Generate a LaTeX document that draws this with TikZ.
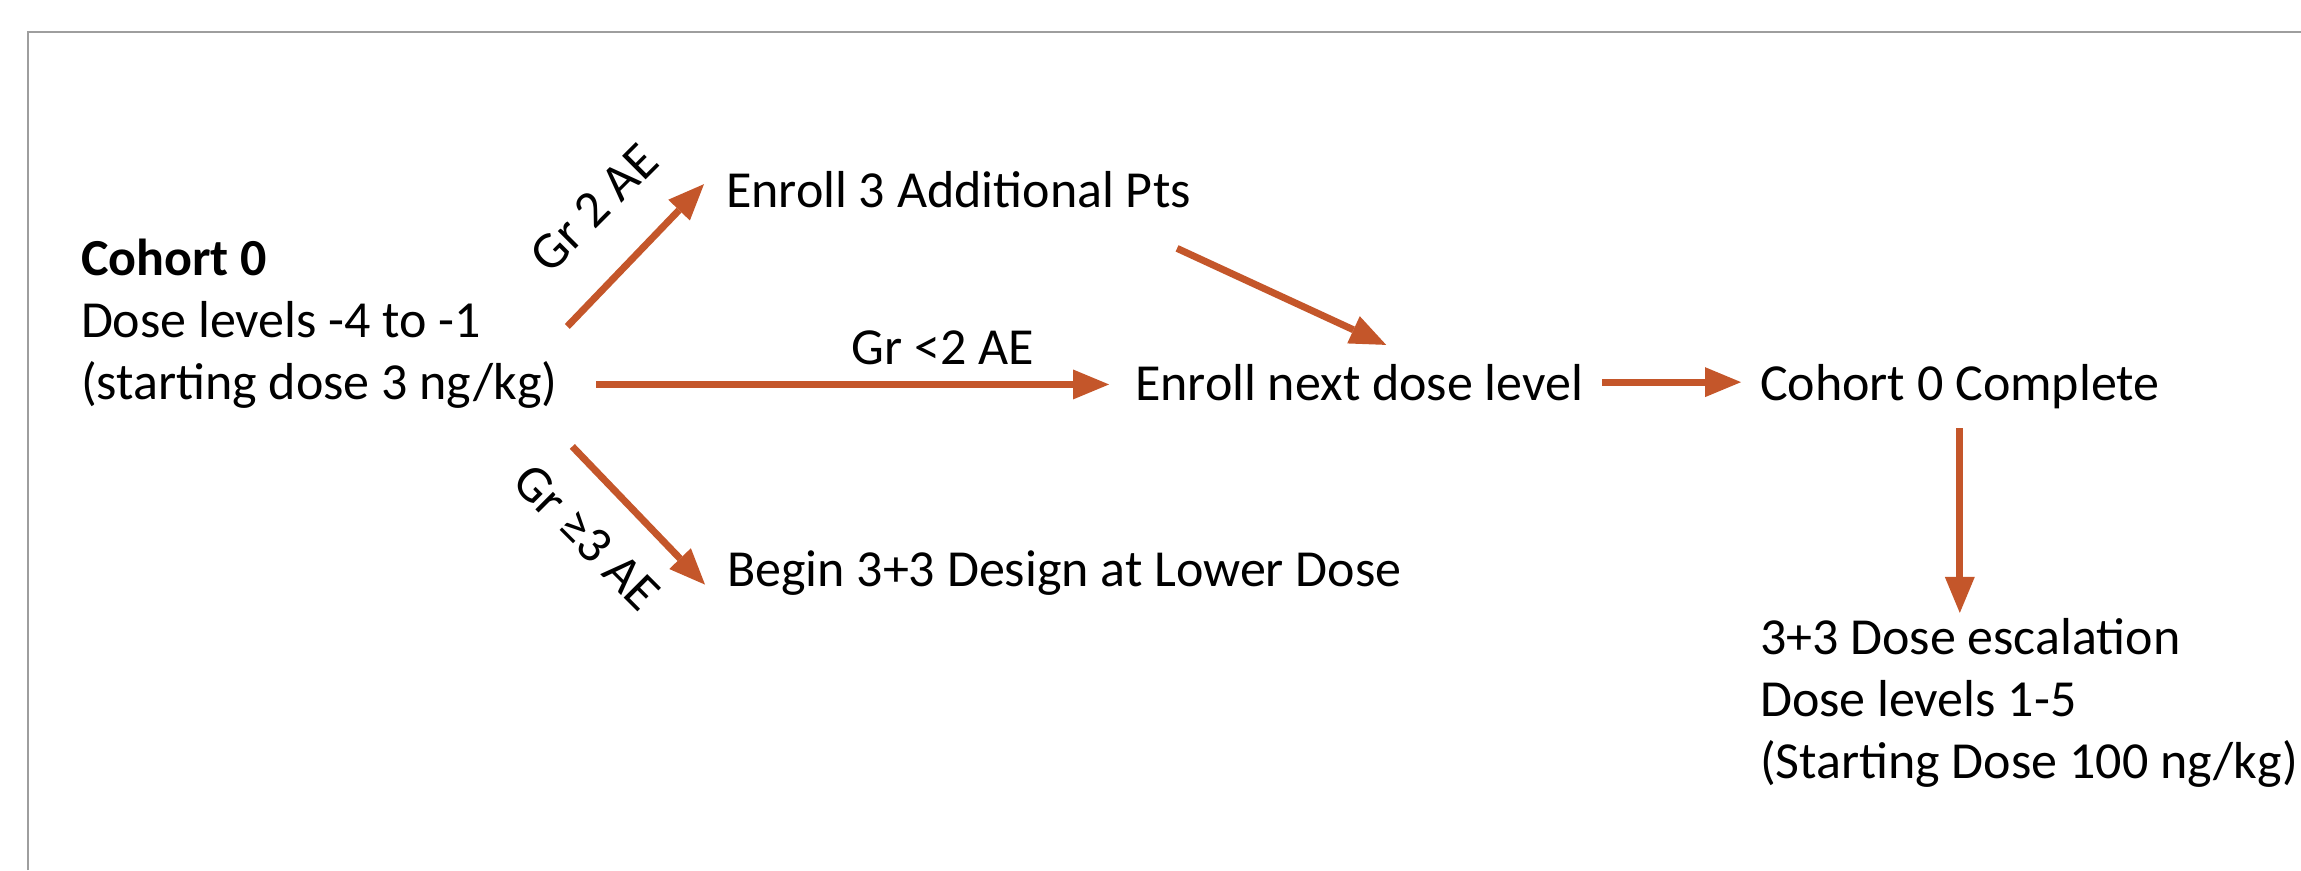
\documentclass[tikz,border=0pt]{standalone}
\usepackage{fontspec}
\setmainfont{Carlito}
\usetikzlibrary{arrows.meta}
\definecolor{flow}{HTML}{C4562A}
\definecolor{framegray}{HTML}{9E9E9E}
\begin{document}
\begin{tikzpicture}[x=1pt,y=-1pt,
  txt/.style={inner sep=0pt, outer sep=0pt, anchor=base west, font=\fontsize{52}{62}\selectfont},
  lbl/.style={inner sep=0pt, outer sep=0pt, font=\fontsize{52}{62}\selectfont},
  arr/.style={draw=flow, line width=7pt, -{Triangle[length=36pt,width=30pt,line width=0pt]}},
  frameline/.style={draw=framegray, line width=2.5pt}]
\useasboundingbox (0,0) rectangle (2301,870);
% open frame: only the top and left edges fall inside the page
\draw[frameline] (28,870) -- (28,32) -- (2301,32);

% starting cohort
\node[txt] (c0a) at (81,275) {\bfseries Cohort 0};
\node[txt] (c0b) at (81,337) {Dose levels -4 to -1};
\node[txt] (c0c) at (81,399) {(starting dose 3 ng/kg)};

% outcomes
\node[txt] (pts) at (726,207) {Enroll 3 Additional Pts};
\node[txt] (nxt) at (1135,400) {Enroll next dose level};
\node[txt] (low) at (727,586) {Begin 3+3 Design at Lower Dose};
\node[txt] (cmp) at (1760,400) {Cohort 0 Complete};

% escalation phase
\node[txt] (esa) at (1760,654) {3+3 Dose escalation};
\node[txt] (esb) at (1760,716) {Dose levels 1-5};
\node[txt] (esc) at (1760,778) {(Starting Dose 100 ng/kg)};

% branch conditions
\node[lbl, rotate=45] (lg2) at (594,208) {Gr 2 AE};
\node[lbl, anchor=base] (lgl) at (943,364) {Gr <2 AE};
\node[lbl, rotate=-45] (lg3) at (587,537) {Gr ≥3 AE};

% connectors
\draw[arr] ([shift={(10,-58)}]c0c.east) -- ([shift={(-22,-5)}]pts.west);
\draw[arr, shorten <=39pt, shorten >=26pt] (c0c.east) -- (c0c.east -| nxt.west);
\draw[arr] ([shift={(15,62)}]c0c.east) -- ([shift={(-22,12)}]low.west);
\draw[arr] ([shift={(-14,41)}]pts.south east) -- ([shift={(27,-19)}]nxt.north);
\draw[arr, shorten <=19pt, shorten >=19pt] (nxt.east) -- (nxt.east -| cmp.west);
\draw[arr, shorten <=20pt, shorten >=5pt] (cmp.south) -- (cmp.south |- esa.north);
\end{tikzpicture}
\end{document}
